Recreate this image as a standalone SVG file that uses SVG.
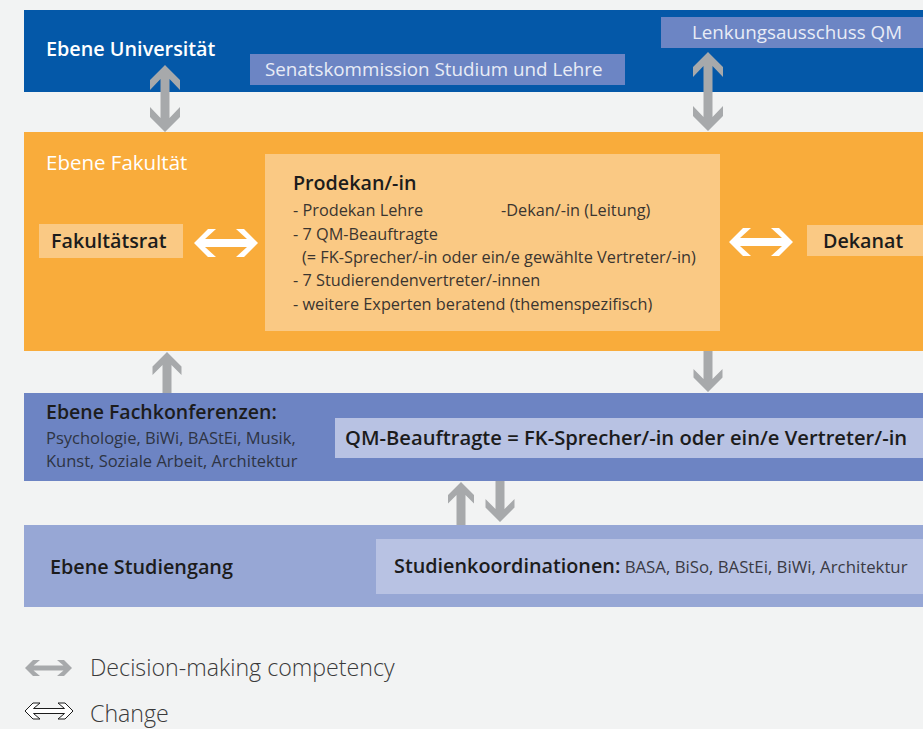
<svg xmlns="http://www.w3.org/2000/svg" width="923" height="729" viewBox="0 0 923 729">
<defs>
<style>
text{font-family:"Open Sans","Noto Sans","Liberation Sans",sans-serif}
.white{fill:#ffffff}
.dark{fill:#1c1c1c}
.body{font-size:16.3px;fill:#3a3530}
.light{font-size:18.8px;fill:#e8ecf6}
.bold{font-weight:600;fill:#1c1c1c}
.garrow{fill:#a7a9ab}
.warrow{fill:#ffffff}
.leg{font-size:23.2px;fill:#3a3a3a;font-weight:300}
</style>
</defs>
<rect x="0" y="0" width="923" height="729" fill="#f2f3f3"/>

<g id="band-universitaet">
<rect x="24" y="10" width="899" height="82" fill="#0458a8"/>
<text x="46" y="56" font-size="19.8" font-weight="600" class="white">Ebene Universität</text>
</g>
<g id="senatskommission">
<rect x="250" y="54" width="375" height="31" fill="#6c85c4"/>
<text x="265" y="76" class="light">Senatskommission Studium und Lehre</text>
</g>
<g id="lenkungsausschuss">
<rect x="661" y="17" width="262" height="31" fill="#6c85c4"/>
<text x="692" y="39" class="light" font-size="18.7">Lenkungsausschuss QM</text>
</g>

<g id="band-fakultaet">
<rect x="24" y="132" width="899" height="219" fill="#f9ac3b"/>
<text x="46" y="170" font-size="20.5" class="white">Ebene Fakultät</text>
</g>
<g id="prodekan">
<rect x="265" y="154" width="455" height="177" fill="#fac984"/>
<text x="293" y="190" font-size="19.7" class="bold">Prodekan/-in</text>
<text x="293" y="216" class="body">- Prodekan Lehre</text>
<text x="501" y="216" class="body" font-size="16.9">-Dekan/-in (Leitung)</text>
<text x="293" y="240" class="body">- 7 QM-Beauftragte</text>
<text x="302" y="263" class="body">(= FK-Sprecher/-in oder ein/e gewählte Vertreter/-in)</text>
<text x="293" y="286" class="body">- 7 Studierendenvertreter/-innen</text>
<text x="293" y="310" class="body">- weitere Experten beratend (themenspezifisch)</text>
</g>
<g id="fakultaetsrat">
<rect x="39" y="224" width="144" height="34" fill="#fac984"/>
<text x="51" y="248" font-size="19.7" class="bold">Fakultätsrat</text>
</g>
<g id="dekanat">
<rect x="807" y="225" width="116" height="31" fill="#fac984"/>
<text x="823" y="248" font-size="19.7" class="bold">Dekanat</text>
</g>

<g id="band-fachkonferenzen">
<rect x="24" y="393" width="899" height="88" fill="#6d84c3"/>
<text x="46" y="419" font-size="19.5" class="bold">Ebene Fachkonferenzen:</text>
<text x="46" y="444" font-size="16.5" fill="#2e3444">Psychologie, BiWi, BAStEi, Musik,</text>
<text x="46" y="467" font-size="16.5" fill="#2e3444">Kunst, Soziale Arbeit, Architektur</text>
</g>
<g id="qm-beauftragte">
<rect x="335" y="418" width="588" height="40" fill="#b8c2e3"/>
<text x="345" y="445" font-size="20.2" class="bold">QM-Beauftragte = FK-Sprecher/-in oder ein/e Vertreter/-in</text>
</g>

<g id="band-studiengang">
<rect x="24" y="525" width="899" height="82" fill="#97a7d5"/>
<text x="50" y="574" font-size="19.8" class="bold">Ebene Studiengang</text>
</g>
<g id="studienkoordinationen">
<rect x="376" y="539" width="547" height="55" fill="#b8c2e3"/>
<text x="394" y="573" font-size="19.8" class="bold">Studienkoordinationen:<tspan font-weight="400" font-size="16.8" fill="#3a3a44"> BASA, BiSo, BAStEi, BiWi, Architektur</tspan></text>
</g>

<g id="connectors">
<polygon class="garrow" points="165,65 180,80 180,90 169.5,79 169.5,118 180,107 180,117 165,132 150,117 150,107 160.5,118 160.5,79 150,90 150,80"/>
<polygon class="garrow" points="708,52 723,67 723,77 712.5,66 712.5,117 723,106 723,116 708,131 693,116 693,106 703.5,117 703.5,66 693,77 693,67"/>
<polygon class="garrow" points="167,352 181.5,366.5 181.5,375 171.5,365 171.5,393 162.5,393 162.5,365 152.5,375 152.5,366.5"/>
<polygon class="garrow" points="703.5,351 712.5,351 712.5,379 722.5,369 722.5,377.5 708,392 693.5,377.5 693.5,369 703.5,379"/>
<polygon class="garrow" points="461,482 474,495 474,503.5 465.5,495 465.5,525 456.5,525 456.5,495 448,503.5 448,495"/>
<polygon class="garrow" points="495.5,481 504.5,481 504.5,509 514.5,499 514.5,507.5 500,522 485.5,507.5 485.5,499 495.5,509"/>
<polygon class="warrow" points="194,243 208,229 216,229 205,239 247,239 236,229 244,229 258,243 244,257 236,257 247,247 205,247 216,257 208,257"/>
<polygon class="warrow" points="729,242 743,228 751,228 740,238 782,238 771,228 779,228 793,242 779,256 771,256 782,246 740,246 751,256 743,256"/>
</g>

<g id="legend">
<polygon class="garrow" points="25,668 33,660 40,660 33.5,665.5 63.5,665.5 57,660 64,660 72,668 64,676 57,676 63.5,670.5 33.5,670.5 40,676 33,676"/>
<text x="90" y="676" class="leg">Decision-making competency</text>
<polygon fill="#ffffff" stroke="#1c1c1c" stroke-width="1" points="25,711 33,703 40,703 33.5,708.5 64.5,708.5 58,703 65,703 73,711 65,719 58,719 64.5,713.5 33.5,713.5 40,719 33,719"/>
<text x="90" y="722" class="leg">Change</text>
</g>
</svg>
